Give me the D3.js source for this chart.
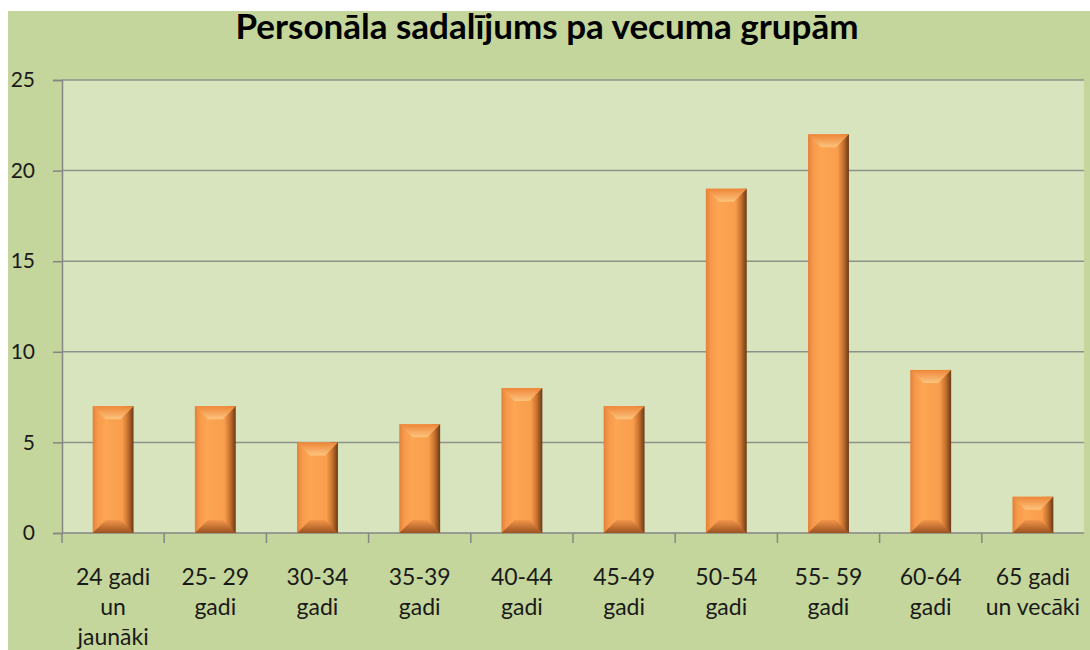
<!DOCTYPE html>
<html>
<head>
<meta charset="utf-8">
<script src="https://cdn.jsdelivr.net/npm/d3@7"></script>
<style>
  body { margin: 0; background: #fff; }
  svg { display: block; }
</style>
</head>
<body>
<div class="chart"></div>
<script>
// data
const categories = [['24 gadi', 'un', 'jaunāki'], ['25- 29', 'gadi'], ['30-34', 'gadi'], ['35-39', 'gadi'],
  ['40-44', 'gadi'], ['45-49', 'gadi'], ['50-54', 'gadi'], ['55- 59', 'gadi'], ['60-64', 'gadi'], ['65 gadi', 'un vecāki']];
const values = [7, 7, 5, 6, 8, 7, 19, 22, 9, 2];
const yTicks = [0, 5, 10, 15, 20, 25];
const title = 'Personāla sadalījums pa vecuma grupām';

const width = 1090, height = 650;
const margin = {left: 62, right: 1084, top: 80, bottom: 533};

const svg = d3.select('.chart').append('svg')
  .attr('width', width).attr('height', height);

const defs = svg.append('defs');
// horizontal shading for bar body
const gBody = defs.append('linearGradient').attr('id', 'body');
[[0, '#e2803a'], [0.12, '#f7994b'], [0.3, '#fca553'], [0.72, '#f99e4d'], [0.86, '#c8722f'], [1, '#6a3a16']]
  .forEach(s => gBody.append('stop').attr('offset', s[0]).attr('stop-color', s[1]));
const gTop = defs.append('linearGradient').attr('id', 'bevtop').attr('x1', 0).attr('y1', 0).attr('x2', 0).attr('y2', 1);
[[0, '#ee8638'], [1, '#fdc47e']].forEach(s => gTop.append('stop').attr('offset', s[0]).attr('stop-color', s[1]));
const gBot = defs.append('linearGradient').attr('id', 'bevbot').attr('x1', 0).attr('y1', 0).attr('x2', 0).attr('y2', 1);
[[0, '#f29649'], [1, '#9c5220']].forEach(s => gBot.append('stop').attr('offset', s[0]).attr('stop-color', s[1]));

// chart area background
svg.append('rect').attr('x', 8).attr('y', 11).attr('width', width - 8).attr('height', height - 11)
  .attr('fill', '#c4d69b');
svg.append('rect').attr('x', margin.left).attr('y', margin.top)
  .attr('width', margin.right - margin.left).attr('height', margin.bottom - margin.top)
  .attr('fill', '#d8e4bd');

svg.append('text')
  .attr('x', 547).attr('y', 39)
  .attr('text-anchor', 'middle')
  .attr('font-family', 'Lato, "Open Sans", sans-serif')
  .attr('font-weight', 'bold')
  .attr('font-size', '35px')
  .attr('fill', '#000')
  .text(title);

const x = d3.scaleBand().domain(d3.range(values.length))
  .range([margin.left, margin.right]).paddingInner(0.6).paddingOuter(0.3);
const xb = d3.scaleBand().domain(d3.range(values.length)).range([margin.left, margin.right]);
const y = d3.scaleLinear().domain([0, 25]).range([margin.bottom, margin.top]);

// gridlines
svg.append('g').selectAll('line').data(yTicks.filter(d => d > 0)).enter().append('line')
  .attr('x1', margin.left).attr('x2', margin.right)
  .attr('y1', d => y(d)).attr('y2', d => y(d))
  .attr('stroke', '#8e918a').attr('stroke-width', 1.5);

// y axis
const yAxis = svg.append('g').attr('transform', `translate(${margin.left},0)`)
  .call(d3.axisLeft(y).tickValues(yTicks).tickSize(9).tickPadding(18));
yAxis.select('.domain').attr('stroke', '#868686').attr('stroke-width', 1.5);
yAxis.selectAll('.tick line').attr('stroke', '#868686').attr('stroke-width', 1.5);
yAxis.selectAll('.tick text')
  .attr('font-family', 'Lato, "Open Sans", sans-serif').attr('font-size', '21px').attr('fill', '#1a1a1a')
  .attr('text-anchor', 'end').attr('x', -27);

// x axis line + ticks at category boundaries
svg.append('line').attr('x1', margin.left).attr('x2', margin.right)
  .attr('y1', margin.bottom).attr('y2', margin.bottom)
  .attr('stroke', '#868686').attr('stroke-width', 1.5);
svg.append('g').selectAll('line').data(d3.range(values.length)).enter().append('line')
  .attr('x1', d => xb(d)).attr('x2', d => xb(d))
  .attr('y1', margin.bottom).attr('y2', margin.bottom + 10)
  .attr('stroke', '#868686').attr('stroke-width', 1.5);

// bars
const b = 13;
const bars = svg.append('g').selectAll('g').data(values).enter().append('g');
bars.append('rect')
  .attr('x', (d, i) => x(i)).attr('y', d => y(d))
  .attr('width', x.bandwidth()).attr('height', d => y(0) - y(d))
  .attr('fill', 'url(#body)');
bars.append('polygon')
  .attr('points', (d, i) => {
    const x0 = x(i), x1 = x(i) + x.bandwidth(), t = y(d), bb = Math.min(b, (y(0) - y(d)) / 2);
    return [[x0, t], [x1, t], [x1 - bb, t + bb], [x0 + bb, t + bb]].join(' ');
  })
  .attr('fill', 'url(#bevtop)');
bars.append('polygon')
  .attr('points', (d, i) => {
    const x0 = x(i), x1 = x(i) + x.bandwidth(), bt = y(0), bb = Math.min(b, (y(0) - y(d)) / 2);
    return [[x0, bt], [x1, bt], [x1 - bb, bt - bb], [x0 + bb, bt - bb]].join(' ');
  })
  .attr('fill', 'url(#bevbot)');

// category labels
const labels = svg.append('g').selectAll('text').data(categories).enter().append('text')
  .attr('x', (d, i) => xb(i) + xb.bandwidth() / 2)
  .attr('y', 585)
  .attr('text-anchor', 'middle')
  .attr('font-family', 'Lato, "Open Sans", sans-serif')
  .attr('font-size', '23px')
  .attr('fill', '#1a1a1a');
labels.selectAll('tspan').data(d => d).enter().append('tspan')
  .attr('x', function() { return d3.select(this.parentNode).attr('x'); })
  .attr('dy', (d, i) => i === 0 ? 0 : 30)
  .text(d => d);
</script>
</body>
</html>
